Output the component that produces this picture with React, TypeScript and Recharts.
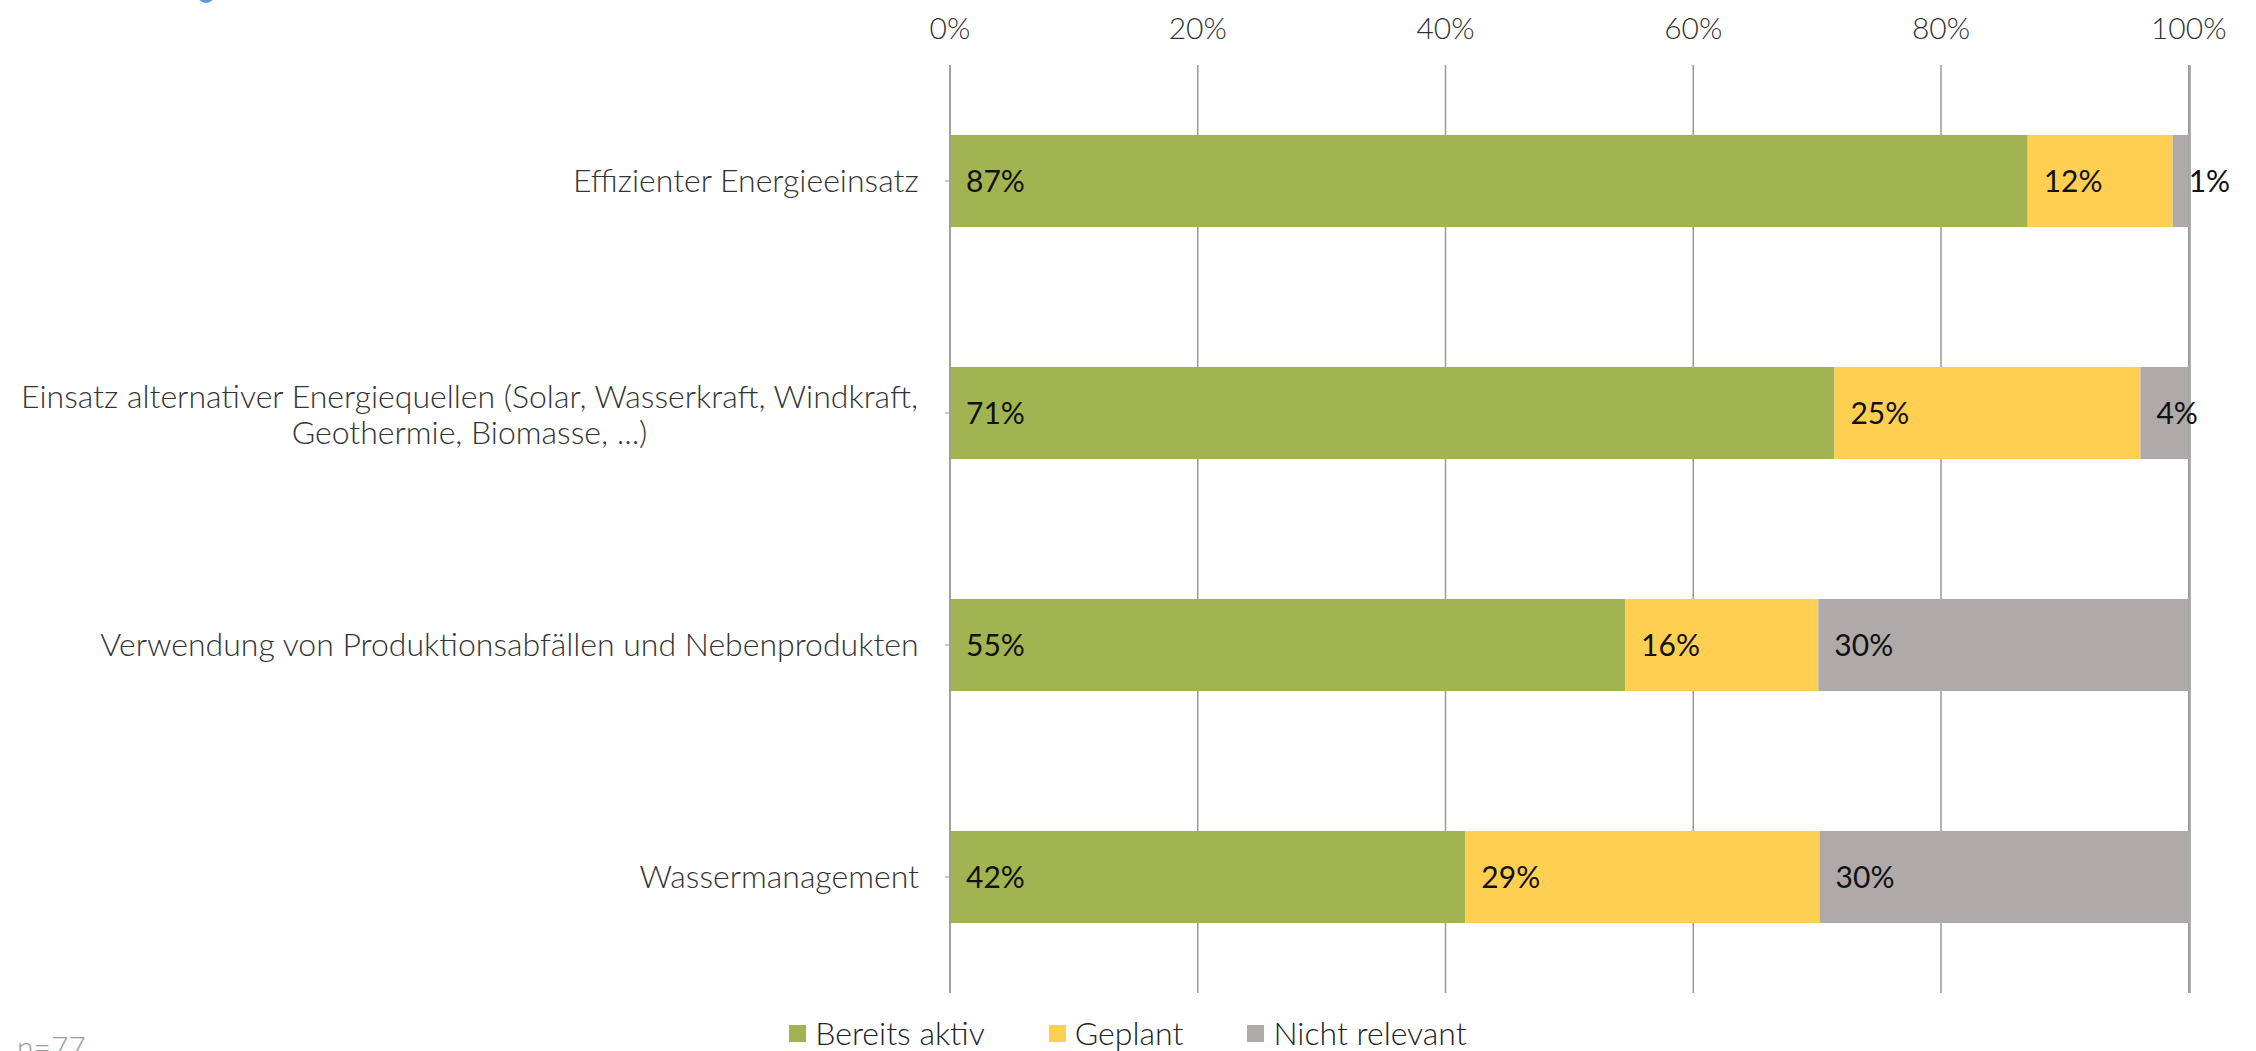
import { Bar, BarChart, CartesianGrid, LabelList, XAxis, YAxis } from "recharts";

const categories = [
  "Effizienter Energieeinsatz",
  "Einsatz alternativer Energiequellen (Solar, Wasserkraft, Windkraft, Geothermie, Biomasse, ...)",
  "Verwendung von Produktionsabfällen und Nebenprodukten",
  "Wassermanagement",
];
const bereitsAktiv = [87.0, 71.4, 54.5, 41.6];
const geplant = [11.7, 24.7, 15.6, 28.6];
const nichtRelevant = [1.3, 3.9, 29.9, 29.9];
const xTicks = [0, 20, 40, 60, 80, 100];

const SERIES = [
  { key: "aktiv", name: "Bereits aktiv", color: "#A2B451" },
  { key: "geplant", name: "Geplant", color: "#FFCF52" },
  { key: "nicht", name: "Nicht relevant", color: "#AFAAA9" },
];

const data = categories.map((name, i) => ({
  name,
  aktiv: bereitsAktiv[i],
  geplant: geplant[i],
  nicht: nichtRelevant[i],
}));

const FONT = "Lato, 'Open Sans', sans-serif";
const LABEL_SIZE = 32;
const LABEL_FONT = `300 ${LABEL_SIZE}px Lato`;
const MAX_LABEL_WIDTH = 925;

let ctx: CanvasRenderingContext2D | null = null;
function measure(text: string) {
  if (!ctx) ctx = document.createElement("canvas").getContext("2d");
  if (!ctx) return text.length * 14.5;
  ctx.font = LABEL_FONT;
  return ctx.measureText(text).width;
}

function wrap(text: string) {
  const words = text.split(" ");
  const lines: string[] = [];
  let line = "";
  for (const w of words) {
    const next = line ? line + " " + w : w;
    if (line && measure(next) > MAX_LABEL_WIDTH) {
      lines.push(line);
      line = w;
    } else {
      line = next;
    }
  }
  if (line) lines.push(line);
  return lines;
}

function CategoryTick({ x, y, payload }: any) {
  const lines = wrap(payload.value);
  const widest = Math.max(...lines.map(measure));
  const cx = x - widest / 2;
  const lineHeight = 36;
  const startY = y - ((lines.length - 1) * lineHeight) / 2 + (lines.length > 1 ? 2 : 0);
  return (
    <text
      textAnchor="middle"
      fontFamily={FONT}
      fontWeight={300}
      fontSize={LABEL_SIZE}
      fill="#333"
    >
      {lines.map((l, i) => (
        <tspan key={i} x={cx} y={startY + i * lineHeight} dy="0.35em">
          {l}
        </tspan>
      ))}
    </text>
  );
}

function SegmentLabel({ x, y, height, value }: any) {
  return (
    <text
      x={x + 16}
      y={y + height / 2}
      dy="0.35em"
      fontFamily={FONT}
      fontSize={30}
      fill="#111"
    >
      {Math.round(value)}%
    </text>
  );
}

export default function App() {
  return (
    <div
      style={{
        position: "absolute",
        left: 0,
        top: 0,
        width: 2256,
        height: 1051,
        overflow: "hidden",
        background: "#fff",
      }}
    >
      <div
        style={{
          position: "absolute",
          left: 197,
          top: -15,
          width: 18,
          height: 18,
          borderRadius: 9,
          background: "#5B9BD5",
        }}
      />
      <BarChart
        layout="vertical"
        width={2256}
        height={1051}
        data={data}
        margin={{ top: 0, right: 66, bottom: 58, left: 0 }}
        barSize={92}
      >
        <CartesianGrid horizontal={false} stroke="#999" strokeWidth={1.5} />
        <XAxis
          type="number"
          orientation="top"
          domain={[0, 100]}
          ticks={xTicks}
          tickFormatter={(v) => `${v}%`}
          axisLine={false}
          tickLine={false}
          tickSize={6}
          tickMargin={20}
          height={65}
          tick={{ fontFamily: FONT, fontWeight: 300, fontSize: 30, fill: "#333" }}
        />
        <YAxis
          type="category"
          dataKey="name"
          width={950}
          axisLine={{ stroke: "#999", strokeWidth: 1.5 }}
          tickLine={{ stroke: "#999" }}
          tickSize={5}
          tickMargin={26}
          tick={<CategoryTick />}
        />
        {SERIES.map((s) => (
          <Bar
            key={s.key}
            dataKey={s.key}
            name={s.name}
            stackId="a"
            fill={s.color}
            isAnimationActive={false}
          >
            <LabelList dataKey={s.key} content={<SegmentLabel />} />
          </Bar>
        ))}
      </BarChart>
      <div
        style={{
          position: "absolute",
          left: 0,
          top: 1013,
          width: 2256,
          display: "flex",
          justifyContent: "center",
          gap: 64,
          fontFamily: FONT,
          fontWeight: 300,
          fontSize: 32,
          color: "#222",
          lineHeight: "40px",
        }}
      >
        {SERIES.map((s) => (
          <div key={s.key} style={{ display: "flex", alignItems: "center", gap: 9 }}>
            <div style={{ width: 17, height: 17, background: s.color }} />
            <span>{s.name}</span>
          </div>
        ))}
      </div>
      <div
        style={{
          position: "absolute",
          left: 17,
          top: 1028,
          fontFamily: FONT,
          fontWeight: 300,
          fontSize: 30,
          color: "#999",
        }}
      >
        n=77
      </div>
    </div>
  );
}
